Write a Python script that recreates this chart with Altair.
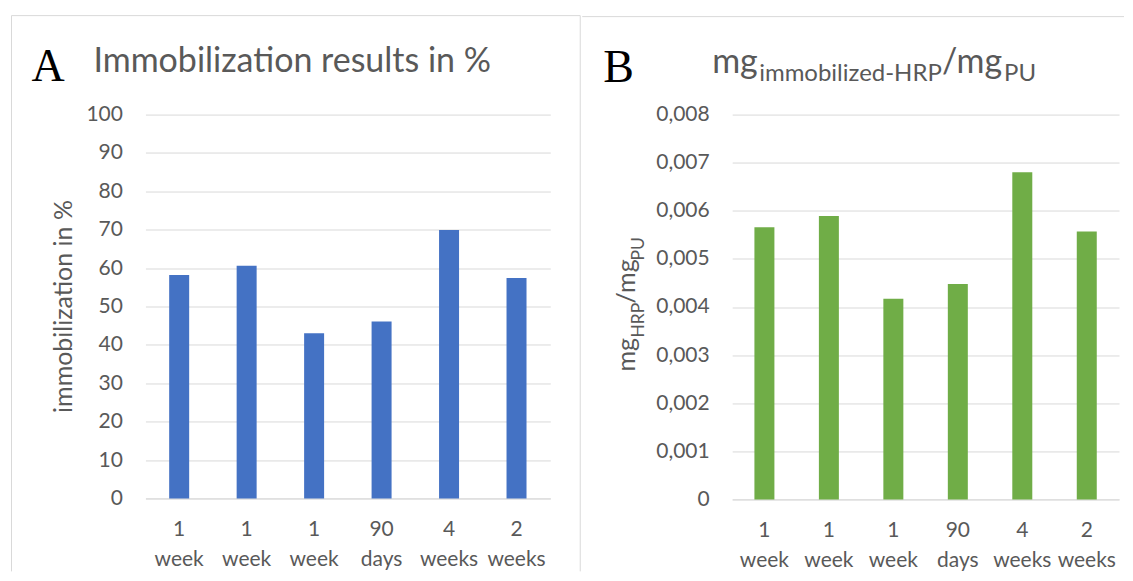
import json
import altair as alt
import pandas as pd

# ---------------- data ----------------
categories = ["1 week", "1 week", "1 week", "90 days", "4 weeks", "2 weeks"]
immobilization_pct = [58.2, 60.6, 43.0, 46.1, 69.9, 57.4]
mg_hrp_per_mg_pu = [0.00566, 0.00589, 0.00417, 0.00448, 0.00680, 0.00557]
pct_ticks = [0, 10, 20, 30, 40, 50, 60, 70, 80, 90, 100]
mg_ticks = [0, 0.001, 0.002, 0.003, 0.004, 0.005, 0.006, 0.007, 0.008]

df = pd.DataFrame({
    "idx": list(range(len(categories))),
    "label": categories,
    "pct": immobilization_pct,
    "mg": mg_hrp_per_mg_pu,
})

GRAY = "#595959"
GRID = "#d9d9d9"
SANS = "Lato"
SERIF = "Liberation Serif"

label_expr = "split(" + json.dumps(categories) + "[datum.value], ' ')"


def x_enc():
    return alt.X(
        "idx:O", sort=None, title=None,
        scale=alt.Scale(paddingInner=0, paddingOuter=0),
        axis=alt.Axis(labelExpr=label_expr, labelAngle=0, labelAlign="center",
                      labelBaseline="top", labelPadding=20, labelLineHeight=30,
                      ticks=False, tickSize=0, domainColor=GRID, domainWidth=1,
                      grid=False),
    )


one = alt.Data(values=[{"k": 1}])


def txt(text, x, y, size, font=SANS, color=GRAY, angle=0, align="left",
        baseline="alphabetic"):
    kw = dict(text=text, font=font, fontSize=size, color=color, align=align,
              baseline=baseline)
    if angle:
        kw["angle"] = angle
    return alt.Chart(one).mark_text(**kw).encode(x=alt.value(x), y=alt.value(y))


def rule(x, x2, y, y2):
    return alt.Chart(one).mark_rule(color=GRID, strokeWidth=1).encode(
        x=alt.value(x), x2=alt.value(x2), y=alt.value(y), y2=alt.value(y2))


# ---------------- panel A ----------------
bars_a = alt.Chart(df).mark_bar(size=20, color="#4472C4").encode(
    x=x_enc(),
    y=alt.Y("pct:Q", title=None, scale=alt.Scale(domain=[0, 100], nice=False),
            axis=alt.Axis(values=pct_ticks, domain=False, ticks=False,
                          tickSize=0, labelPadding=23)),
)

chart_a = alt.layer(
    bars_a,
    txt("A", -114, -34, 46, font=SERIF, color="black"),
    txt("Immobilization results in %", -52, -43, 34),
    txt("immobilization in %", -73, 192, 25, angle=270, align="center"),
    rule(-134, -134, -99, 457),
    rule(-134, 435, -99, -99),
    rule(435, 435, -99, 457),
).properties(width=405, height=384)

# ---------------- panel B ----------------
bars_b = alt.Chart(df).mark_bar(size=20, color="#70AD47").encode(
    x=x_enc(),
    y=alt.Y("mg:Q", title=None, scale=alt.Scale(domain=[0, 0.008], nice=False),
            axis=alt.Axis(values=mg_ticks, domain=False, ticks=False,
                          tickSize=0, labelPadding=23,
                          labelExpr="datum.value == 0 ? '0' : replace(format(datum.value, '.3f'), '.', ',')")),
)

chart_b = alt.layer(
    bars_b,
    txt("B", -129, -33, 46, font=SERIF, color="black"),
    txt("mg", -20, -42, 34),
    txt("immobilized-HRP", 27, -34, 24),
    txt("/mg", 210, -42, 34),
    txt("PU", 272, -34, 24),
    # rotated y-axis title mg_HRP / mg_PU
    txt("mg", -97, 257, 25, angle=270),
    txt("HRP", -88, 223, 17.5, angle=270),
    txt("/mg", -97, 189, 25, angle=270),
    txt("PU", -88, 146, 17.5, angle=270),
    rule(-150, 392, -98, -98),
).properties(width=387, height=385)

chart = alt.hconcat(chart_a, chart_b, spacing=0).properties(
    padding={"left": 2.5, "top": 6.5, "right": 0, "bottom": 0}
).configure_view(stroke=None).configure_axis(
    labelFont=SANS, labelFontSize=21, labelColor=GRAY,
    gridColor=GRID, gridWidth=1,
)

chart.save("out.html", embed_options={"renderer": "svg", "actions": False})
